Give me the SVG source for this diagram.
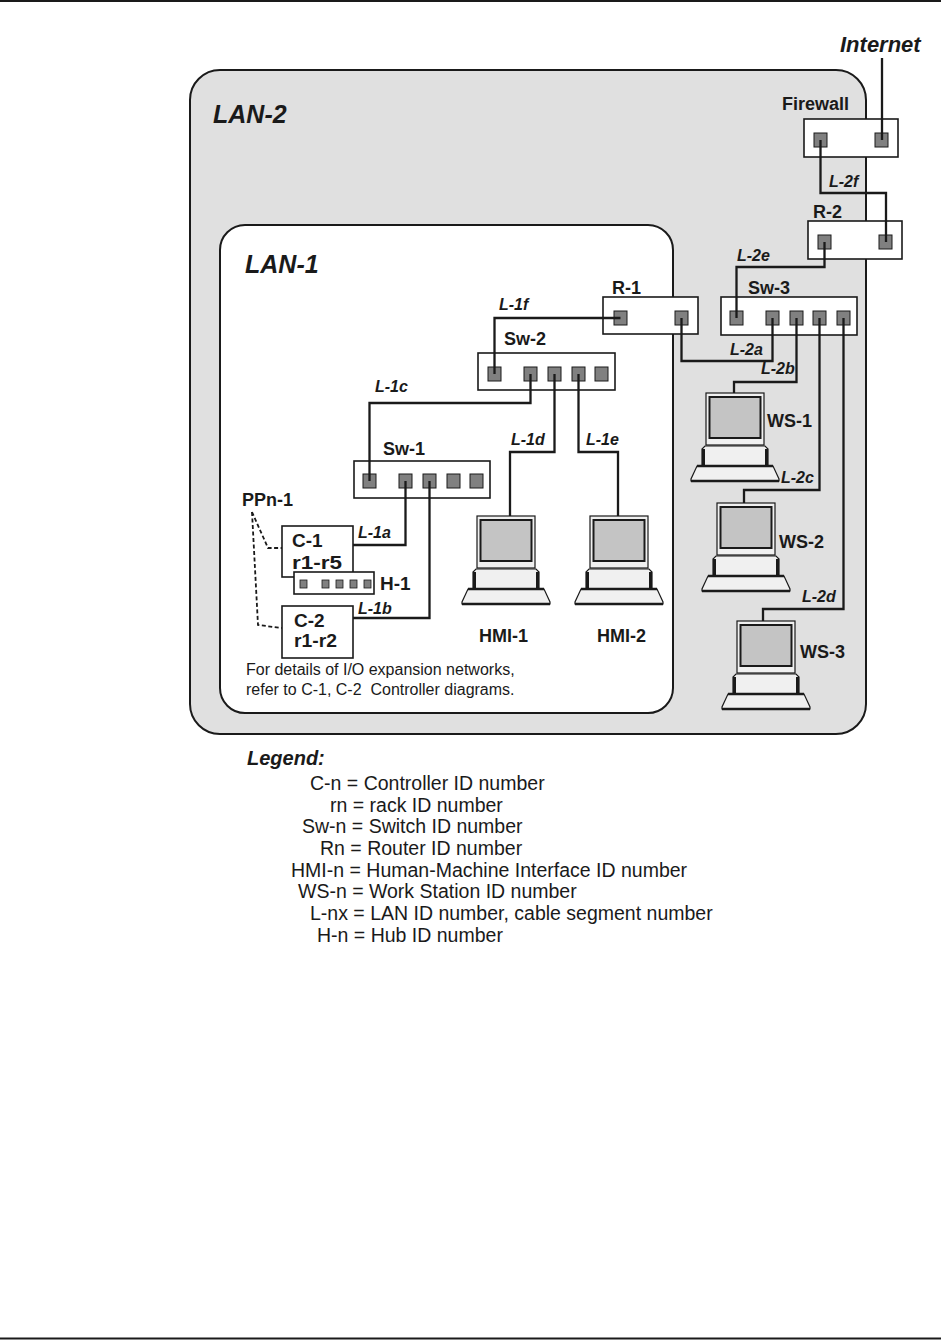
<svg xmlns="http://www.w3.org/2000/svg" xmlns:xlink="http://www.w3.org/1999/xlink" width="943" height="1340" viewBox="0 0 943 1340">
<style>
.lbl{font-family:"Liberation Sans",Arial,sans-serif;font-weight:bold;font-size:18px;fill:#1a1a1a}
.lan{font-family:"Liberation Sans",Arial,sans-serif;font-weight:bold;font-style:italic;font-size:25px;fill:#1a1a1a}
.seg{font-family:"Liberation Sans",Arial,sans-serif;font-weight:bold;font-style:italic;font-size:16px;fill:#1a1a1a}
.txt{font-family:"Liberation Sans",Arial,sans-serif;font-size:16px;fill:#1a1a1a}
.leg{font-family:"Liberation Sans",Arial,sans-serif;font-size:19.5px;fill:#1a1a1a}
.box{fill:#fff;stroke:#1a1a1a;stroke-width:1.6}
.port{fill:#808080;stroke:#1a1a1a;stroke-width:1}
.hport{fill:#808080;stroke:#1a1a1a;stroke-width:0.8}
.wire{fill:none;stroke:#1a1a1a;stroke-width:2.3;stroke-linejoin:miter}
.dash{fill:none;stroke:#1a1a1a;stroke-width:1.8;stroke-dasharray:4,2.5}
</style>
<defs>
<g id="pc">
<rect x="0" y="0" width="58" height="52" fill="#f0f0f0" stroke="#1a1a1a" stroke-width="1.2"/>
<rect x="3.5" y="4" width="51" height="41" fill="#c4c4c4" stroke="#1a1a1a" stroke-width="2"/>
<path d="M-4,73 L-4,56 L-1,53 L59,53 L62,56 L62,73 Z" fill="#f0f0f0" stroke="#1a1a1a" stroke-width="1.2"/>
<line x1="-2.5" y1="56" x2="-2.5" y2="73" stroke="#1a1a1a" stroke-width="3"/>
<line x1="60.5" y1="56" x2="60.5" y2="73" stroke="#1a1a1a" stroke-width="3"/>
<path d="M-9,73 L67,73 L73,86 L73,88 L-15,88 L-15,86 Z" fill="#f0f0f0" stroke="#1a1a1a" stroke-width="1.2"/>
<line x1="-9" y1="73" x2="67" y2="73" stroke="#1a1a1a" stroke-width="2.5"/>
<line x1="-15" y1="88" x2="73" y2="88" stroke="#1a1a1a" stroke-width="2.5"/>
</g>
</defs>
<rect width="943" height="1340" fill="#fff"/>
<line x1="0" y1="1" x2="941" y2="1" stroke="#1a1a1a" stroke-width="2"/>
<line x1="0" y1="1338.5" x2="941" y2="1338.5" stroke="#1a1a1a" stroke-width="2"/>

<g id="lan2">
<rect x="190" y="70" width="676" height="664" rx="30" ry="30" fill="#e0e0e0" stroke="#1a1a1a" stroke-width="2"/>
<text class="lan" x="213" y="123">LAN-2</text>
</g>
<g id="lan1">
<rect x="220" y="225" width="453" height="488" rx="25" ry="25" fill="#fff" stroke="#1a1a1a" stroke-width="2"/>
<text class="lan" x="245" y="273">LAN-1</text>
</g>

<g id="internet">
<text class="lan" x="840" y="52" style="font-size:22px">Internet</text>
</g>
<g id="firewall">
<text class="lbl" x="782" y="110">Firewall</text>
<rect class="box" x="804" y="119" width="94" height="38"/>
<rect class="port" x="814" y="133" width="13" height="14"/>
<rect class="port" x="875" y="133" width="13" height="14"/>
</g>
<g id="r2">
<text class="lbl" x="813" y="218">R-2</text>
<rect class="box" x="808" y="221" width="94" height="38"/>
<rect class="port" x="818" y="235" width="13" height="14"/>
<rect class="port" x="879" y="235" width="13" height="14"/>
</g>
<g id="sw3">
<text class="lbl" x="748" y="294">Sw-3</text>
<rect class="box" x="721" y="297" width="136" height="38"/>
<rect class="port" x="730" y="311" width="13" height="14"/>
<rect class="port" x="766" y="311" width="13" height="14"/>
<rect class="port" x="790" y="311" width="13" height="14"/>
<rect class="port" x="813" y="311" width="13" height="14"/>
<rect class="port" x="837" y="311" width="13" height="14"/>
</g>
<g id="r1">
<text class="lbl" x="612" y="294">R-1</text>
<rect class="box" x="603" y="297" width="95" height="37"/>
<rect class="port" x="614" y="311" width="13" height="14"/>
<rect class="port" x="675" y="311" width="13" height="14"/>
</g>
<g id="sw2">
<text class="lbl" x="504" y="345">Sw-2</text>
<rect class="box" x="478" y="353" width="137" height="37"/>
<rect class="port" x="488" y="367" width="13" height="14"/>
<rect class="port" x="524" y="367" width="13" height="14"/>
<rect class="port" x="548" y="367" width="13" height="14"/>
<rect class="port" x="572" y="367" width="13" height="14"/>
<rect class="port" x="595" y="367" width="13" height="14"/>
</g>
<g id="sw1">
<text class="lbl" x="383" y="455">Sw-1</text>
<rect class="box" x="354" y="461" width="136" height="37"/>
<rect class="port" x="363" y="474" width="13" height="14"/>
<rect class="port" x="399" y="474" width="13" height="14"/>
<rect class="port" x="423" y="474" width="13" height="14"/>
<rect class="port" x="447" y="474" width="13" height="14"/>
<rect class="port" x="470" y="474" width="13" height="14"/>
</g>
<g id="ppn1">
<text class="lbl" x="242" y="506">PPn-1</text>
<path class="dash" d="M252,512 L268,548 L282,548"/>
<path class="dash" d="M252,512 L258,625 L282,628"/>
</g>
<g id="c1">
<rect class="box" x="282" y="526" width="71" height="51"/>
<text class="lbl" x="292" y="547" style="font-size:19px">C-1</text>
<text class="lbl" x="292" y="569" style="font-size:19px" textLength="50" lengthAdjust="spacingAndGlyphs">r1-r5</text>
</g>
<g id="h1">
<rect class="box" x="294" y="572" width="80" height="22"/>
<rect class="hport" x="300" y="580" width="7" height="8"/>
<rect class="hport" x="322" y="580" width="7" height="8"/>
<rect class="hport" x="336" y="580" width="7" height="8"/>
<rect class="hport" x="350" y="580" width="7" height="8"/>
<rect class="hport" x="364" y="580" width="7" height="8"/>
<text class="lbl" x="380" y="590" style="font-size:19px">H-1</text>
</g>
<g id="c2">
<rect class="box" x="282" y="606" width="71" height="52"/>
<text class="lbl" x="294" y="627" style="font-size:19px">C-2</text>
<text class="lbl" x="294" y="647" style="font-size:19px" textLength="43" lengthAdjust="spacingAndGlyphs">r1-r2</text>
</g>
<g id="hmi1">
<use xlink:href="#pc" x="477" y="516"/>
<text class="lbl" x="479" y="642">HMI-1</text>
</g>
<g id="hmi2">
<use xlink:href="#pc" x="590" y="516"/>
<text class="lbl" x="597" y="642">HMI-2</text>
</g>
<g id="ws1">
<use xlink:href="#pc" x="706" y="393"/>
<text class="lbl" x="767" y="427">WS-1</text>
</g>
<g id="ws2">
<use xlink:href="#pc" x="717" y="503"/>
<text class="lbl" x="779" y="548">WS-2</text>
</g>
<g id="ws3">
<use xlink:href="#pc" x="737" y="621"/>
<text class="lbl" x="800" y="658">WS-3</text>
</g>

<g id="connectors">
<path class="wire" d="M882,58 L882,140"/>
<path class="wire" d="M820.5,140 L820.5,193 L886,193 L886,242"/>
<path class="wire" d="M824.5,242 L824.5,267 L736.5,267 L736.5,318"/>
<path class="wire" d="M681.5,318 L681.5,361 L772.5,361 L772.5,318"/>
<path class="wire" d="M796.5,318 L796.5,382 L734,382 L734,393"/>
<path class="wire" d="M819.5,318 L819.5,490 L744,490 L744,503"/>
<path class="wire" d="M843.5,318 L843.5,609 L763,609 L763,621"/>
<path class="wire" d="M620.5,318 L494.5,318 L494.5,374"/>
<path class="wire" d="M530.5,374 L530.5,403 L369.5,403 L369.5,481"/>
<path class="wire" d="M554.5,374 L554.5,452 L510,452 L510,516"/>
<path class="wire" d="M578.5,374 L578.5,452 L618,452 L618,516"/>
<path class="wire" d="M405.5,481 L405.5,545 L353,545"/>
<path class="wire" d="M429.5,481 L429.5,618 L353,618"/>
<text class="seg" x="829" y="187">L-2f</text>
<text class="seg" x="737" y="261">L-2e</text>
<text class="seg" x="730" y="355">L-2a</text>
<text class="seg" x="761" y="374">L-2b</text>
<text class="seg" x="781" y="483">L-2c</text>
<text class="seg" x="802" y="602">L-2d</text>
<text class="seg" x="499" y="310">L-1f</text>
<text class="seg" x="375" y="392">L-1c</text>
<text class="seg" x="511" y="445">L-1d</text>
<text class="seg" x="586" y="445">L-1e</text>
<text class="seg" x="358" y="538">L-1a</text>
<text class="seg" x="358" y="614">L-1b</text>
</g>

<g id="note">
<text class="txt" x="246" y="675">For details of I/O expansion networks,</text>
<text class="txt" x="246" y="695" xml:space="preserve">refer to C-1, C-2  Controller diagrams.</text>
</g>

<g id="legend">
<text class="lan" x="247" y="765" style="font-size:20px">Legend:</text>
<text class="leg" x="310" y="790">C-n = Controller ID number</text>
<text class="leg" x="330" y="812">rn = rack ID number</text>
<text class="leg" x="302" y="833">Sw-n = Switch ID number</text>
<text class="leg" x="320" y="855">Rn = Router ID number</text>
<text class="leg" x="291" y="877">HMI-n = Human-Machine Interface ID number</text>
<text class="leg" x="298" y="898">WS-n = Work Station ID number</text>
<text class="leg" x="310" y="920">L-nx = LAN ID number, cable segment number</text>
<text class="leg" x="317" y="942">H-n = Hub ID number</text>
</g>
</svg>
